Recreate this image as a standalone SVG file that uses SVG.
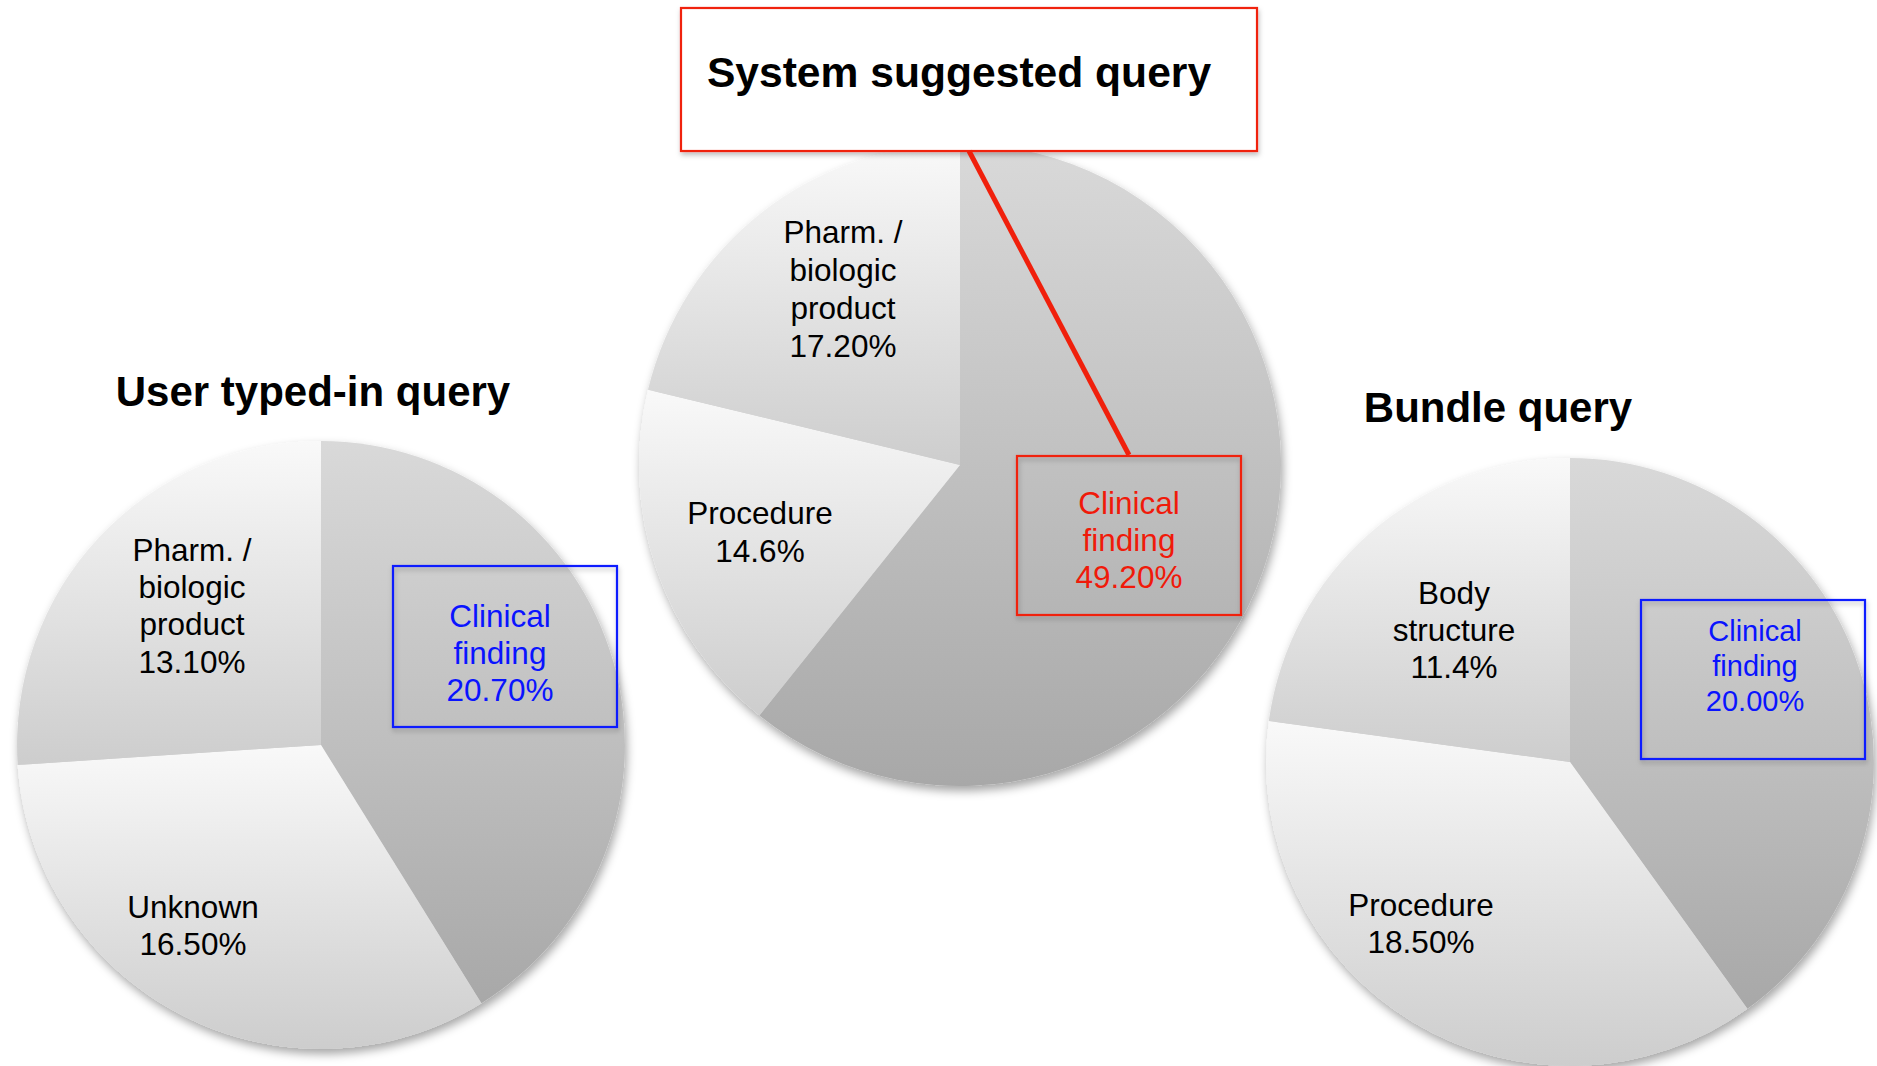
<svg xmlns="http://www.w3.org/2000/svg" width="1877" height="1066" viewBox="0 0 1877 1066">
<defs>
<linearGradient id="gDark" x1="0" y1="0" x2="0" y2="1"><stop offset="0" stop-color="#d9d9d9"/><stop offset="1" stop-color="#a8a8a8"/></linearGradient>
<linearGradient id="gLight" x1="0" y1="0" x2="0" y2="1"><stop offset="0" stop-color="#f9f9f9"/><stop offset="1" stop-color="#cdcdcd"/></linearGradient>
<filter id="pieShadow" x="-10%" y="-10%" width="120%" height="120%"><feDropShadow dx="2" dy="5" stdDeviation="5" flood-color="#000" flood-opacity="0.35"/></filter>
<filter id="boxShadow" x="-10%" y="-10%" width="120%" height="120%"><feDropShadow dx="1" dy="3" stdDeviation="2.5" flood-color="#000" flood-opacity="0.25"/></filter>
</defs>
<style>
.dark{fill:url(#gDark)}
.light{fill:url(#gLight)}
.title{font-family:"Liberation Sans",Arial,sans-serif;font-weight:bold;font-size:42px;fill:#000;text-anchor:middle}
.lbl{font-family:"Liberation Sans",Arial,sans-serif;font-size:31.5px;fill:#000;text-anchor:middle}
.blue{fill:#0a14ff}
.red{fill:#f01a0a}
.bbox{fill:none;stroke:#0a1eff;stroke-width:2.2}
.rbox{fill:none;stroke:#f0200c;stroke-width:2.2}
</style>

<g id="pie-user">
<g filter="url(#pieShadow)">
<path class="dark" d="M321,745 L321,441 A304,304 0 0 1 481.4,1003.2 Z"/>
<path class="light" d="M321,745 L481.4,1003.2 A304,304 0 0 1 17.7,764.9 Z"/>
<path class="light" d="M321,745 L17.7,764.9 A304,304 0 0 1 321,441 Z"/>
</g>
<text class="title" x="313" y="406">User typed-in query</text>
<text class="lbl" x="192" y="561">Pharm. /</text>
<text class="lbl" x="192" y="598">biologic</text>
<text class="lbl" x="192" y="635">product</text>
<text class="lbl" x="192" y="673">13.10%</text>
<text class="lbl" x="193" y="918">Unknown</text>
<text class="lbl" x="193" y="955">16.50%</text>
<rect class="bbox" x="393" y="566" width="224" height="161" filter="url(#boxShadow)"/>
<text class="lbl blue" x="500" y="627">Clinical</text>
<text class="lbl blue" x="500" y="664">finding</text>
<text class="lbl blue" x="500" y="701">20.70%</text>
</g>

<g id="pie-system">
<g filter="url(#pieShadow)">
<path class="dark" d="M960,465 L960,144 A321,321 0 1 1 759.4,715.6 Z"/>
<path class="light" d="M960,465 L759.4,715.6 A321,321 0 0 1 648.0,389.7 Z"/>
<path class="light" d="M960,465 L648.0,389.7 A321,321 0 0 1 960,144 Z"/>
</g>
<text class="lbl" x="843" y="243">Pharm. /</text>
<text class="lbl" x="843" y="281">biologic</text>
<text class="lbl" x="843" y="319">product</text>
<text class="lbl" x="843" y="357">17.20%</text>
<text class="lbl" x="760" y="524">Procedure</text>
<text class="lbl" x="760" y="562">14.6%</text>
</g>

<g id="title-system">
<rect x="681" y="8" width="576" height="143" fill="#fff" stroke="#f0200c" stroke-width="2.2" filter="url(#boxShadow)"/>
<text class="title" x="959" y="87" style="font-size:42.6px">System suggested query</text>
</g>

<g id="label-system-clinical">
<rect class="rbox" x="1017" y="456" width="224" height="159" filter="url(#boxShadow)"/>
<text class="lbl red" x="1129" y="514">Clinical</text>
<text class="lbl red" x="1129" y="551">finding</text>
<text class="lbl red" x="1129" y="588">49.20%</text>
</g>

<g id="pie-bundle">
<g filter="url(#pieShadow)">
<path class="dark" d="M1570,762 L1570,458 A304,304 0 0 1 1747.4,1008.8 Z"/>
<path class="light" d="M1570,762 L1747.4,1008.8 A304,304 0 0 1 1268.8,721.0 Z"/>
<path class="light" d="M1570,762 L1268.8,721.0 A304,304 0 0 1 1570,458 Z"/>
</g>
<text class="title" x="1498" y="422">Bundle query</text>
<text class="lbl" x="1454" y="604">Body</text>
<text class="lbl" x="1454" y="641">structure</text>
<text class="lbl" x="1454" y="678">11.4%</text>
<text class="lbl" x="1421" y="916">Procedure</text>
<text class="lbl" x="1421" y="953">18.50%</text>
<rect class="bbox" x="1641" y="600" width="224" height="159" filter="url(#boxShadow)"/>
<text class="lbl blue" x="1755" y="641" style="font-size:29px">Clinical</text>
<text class="lbl blue" x="1755" y="676" style="font-size:29px">finding</text>
<text class="lbl blue" x="1755" y="711" style="font-size:29px">20.00%</text>
</g>

<g id="connectors">
<line x1="969" y1="151" x2="1129" y2="455" stroke="#f0200c" stroke-width="5"/>
</g>
</svg>
